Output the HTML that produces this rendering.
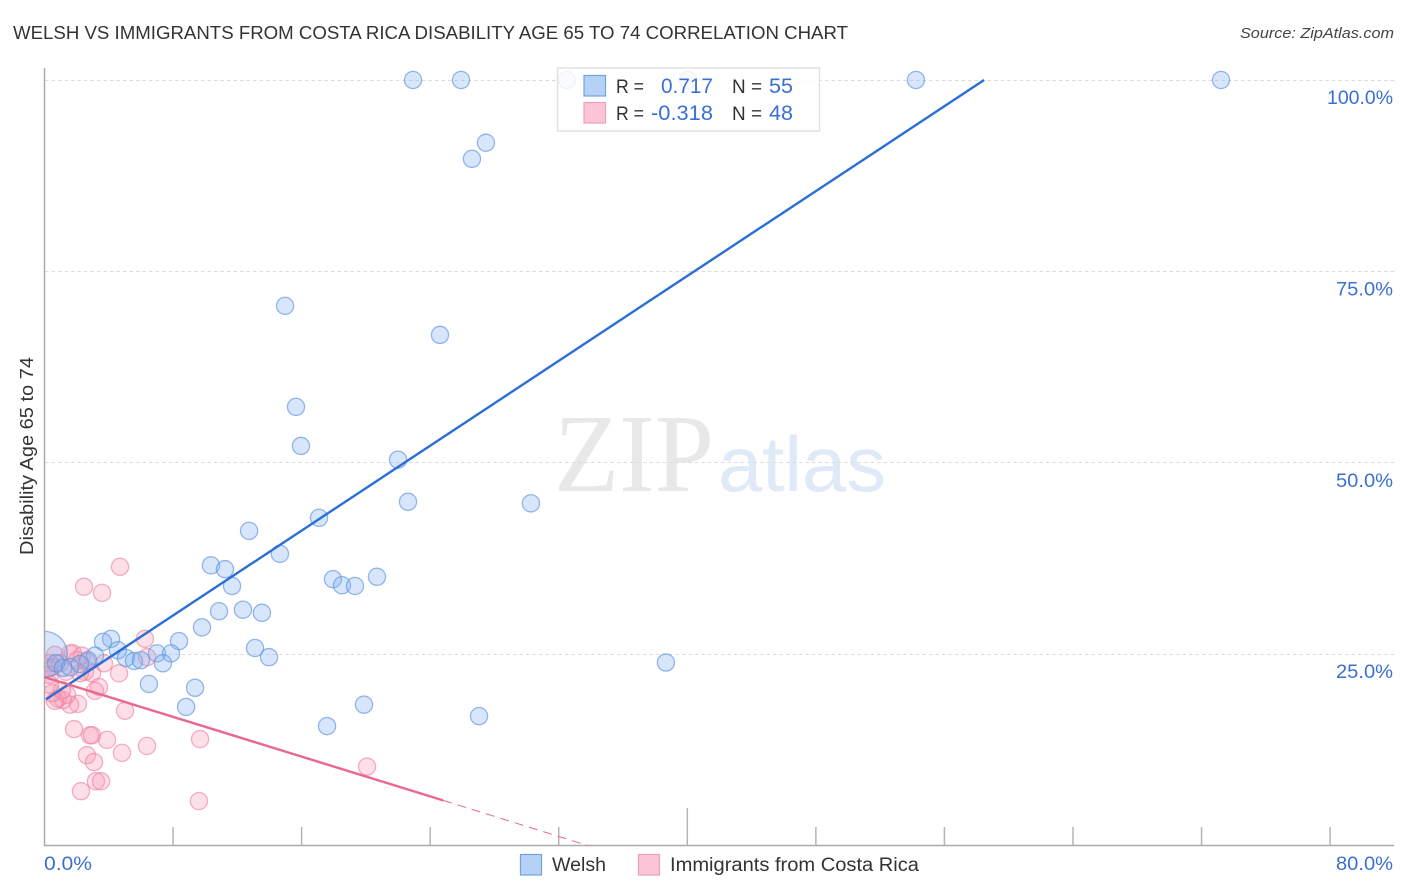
<!DOCTYPE html>
<html lang="en">
<head>
<meta charset="utf-8">
<title>Welsh vs Immigrants from Costa Rica Disability Age 65 to 74 Correlation Chart</title>
<style>
html,body{margin:0;padding:0;background:#fff;width:1406px;height:892px;overflow:hidden}
svg{display:block;font-family:"Liberation Sans",sans-serif}
</style>
</head>
<body>
<svg id="chart" width="1406" height="892" viewBox="0 0 1406 892" xmlns="http://www.w3.org/2000/svg">
  <text x="13" y="39" font-size="18.5" fill="#333" textLength="835" lengthAdjust="spacingAndGlyphs">WELSH VS IMMIGRANTS FROM COSTA RICA DISABILITY AGE 65 TO 74 CORRELATION CHART</text>
  <text x="1394" y="38" font-size="15" font-style="italic" fill="#444" text-anchor="end" textLength="154" lengthAdjust="spacingAndGlyphs">Source: ZipAtlas.com</text>
  <g>
    <text x="554" y="491" font-size="111" fill="#e8e8e8" style="font-family:'Liberation Serif',serif" textLength="160" lengthAdjust="spacingAndGlyphs">ZIP</text>
    <text x="718" y="491" font-size="78" fill="#dfe9f7" textLength="168" lengthAdjust="spacingAndGlyphs">atlas</text>
  </g>
  <g id="grid"></g>
  <g id="points"></g>
  <rect x="0" y="60" width="44.5" height="800" fill="#fff"/>
  <g id="axes"></g>
  <g id="trends"></g>
  <g id="ticklabels"></g>
  <text transform="translate(33,456) rotate(-90)" font-size="18" fill="#333" text-anchor="middle" textLength="198" lengthAdjust="spacingAndGlyphs">Disability Age 65 to 74</text>

  <g>
    <rect x="557.5" y="68" width="262" height="63" fill="#fff" fill-opacity="0.84" stroke="#e2e2e2" stroke-width="1.5"/>
    <rect x="584" y="75.5" width="21.5" height="20.5" fill="#b5d2f6" stroke="#6fa3e3" stroke-width="1.2"/>
    <rect x="584" y="102.5" width="21.5" height="20.5" fill="#fcc5d7" stroke="#f0a0b8" stroke-width="1.2"/>
    <text x="616" y="93" font-size="19.5" fill="#333" textLength="28" lengthAdjust="spacingAndGlyphs">R =</text>
    <text x="661" y="93" font-size="21" fill="#3a70d2" textLength="52" lengthAdjust="spacingAndGlyphs">0.717</text>
    <text x="732" y="93" font-size="19.5" fill="#333" textLength="30" lengthAdjust="spacingAndGlyphs">N =</text>
    <text x="769" y="93" font-size="21" fill="#3a70d2" textLength="24" lengthAdjust="spacingAndGlyphs">55</text>
    <text x="616" y="120" font-size="19.5" fill="#333" textLength="28" lengthAdjust="spacingAndGlyphs">R =</text>
    <text x="651" y="120" font-size="21" fill="#3a70d2" textLength="62" lengthAdjust="spacingAndGlyphs">-0.318</text>
    <text x="732" y="120" font-size="19.5" fill="#333" textLength="30" lengthAdjust="spacingAndGlyphs">N =</text>
    <text x="769" y="120" font-size="21" fill="#3a70d2" textLength="24" lengthAdjust="spacingAndGlyphs">48</text>
  </g>

  <g>
    <rect x="520.5" y="854.5" width="21" height="20.5" fill="#b5d2f6" stroke="#6fa3e3" stroke-width="1.2"/>
    <text x="552" y="871" font-size="19" fill="#333" textLength="54" lengthAdjust="spacingAndGlyphs">Welsh</text>
    <rect x="638.5" y="854.5" width="21" height="20.5" fill="#fcc5d7" stroke="#f0a0b8" stroke-width="1.2"/>
    <text x="670" y="871" font-size="19" fill="#333" textLength="249" lengthAdjust="spacingAndGlyphs">Immigrants from Costa Rica</text>
  </g>
</svg>
<script>
const welshX = [22.93,25.92,32.51,40.05,54.23,73.21,27.47,26.60,14.97,24.61,15.65,15.96,22.0,22.62,30.27,17.08,12.73,14.65,10.36,11.23,17.95,18.51,19.32,20.69,11.67,10.86,12.35,13.53,9.80,8.37,4.14,3.64,4.57,3.14,2.71,5.07,5.57,6.0,7.0,7.87,7.37,13.1,13.97,38.67,6.5,9.37,8.81,19.88,17.58,27.04,0,0.72,1.15,1.59,2.2];
const welshY = [100,100,100,100,100,100,91.8,89.7,70.5,66.7,57.3,52.2,50.4,44.9,44.7,42.8,41.1,38.1,36.6,36.1,34.8,34.0,33.9,35.1,33.9,30.6,30.8,30.4,28.5,26.7,27.0,26.6,25.5,24.8,24.2,24.5,24.1,24.2,25.1,25.1,23.8,25.8,24.6,23.9,21.1,20.6,18.1,18.4,15.6,16.9,25,23.8,23.2,23.3,23.7];
const welshWeight = [1,1,1,1,1,1,1,1,1,1,1,1,1,1,1,1,1,1,1,1,1,1,1,1,1,1,1,1,1,1,1,1,1,1,1,1,1,1,1,1,1,1,1,1,1,1,1,1,1,1,7,1,1,1,1];
const ricaX = [4.70,2.46,3.58,6.25,3.70,4.64,6.38,3.39,3.14,5.01,1.84,2.83,2.96,3.89,6.38,9.68,2.64,4.82,3.08,3.20,3.52,2.27,9.61,20.07,2.08,1.59,1.15,0.84,0.65,1.40,0.47,1.09,0.34,2.52,2.21,0.65,1.77,1.59,2.33,0.34,0.53,0.96,2.02,0.22,0.34,1.34,2.64,2.96];
const ricaY = [36.4,33.8,33.0,27.0,23.8,22.5,24.6,20.7,20.2,17.6,15.2,14.4,14.4,13.8,13.0,13.9,11.8,12.1,10.9,8.4,8.4,7.1,5.8,10.3,18.5,18.4,19.0,19.2,18.9,19.7,19.9,20.3,21.0,22.7,22.5,24.9,25.1,25.1,24.8,23.8,23.3,23.8,24.2,23.2,22.3,22.7,24.0,22.5];
const welshTrendX = [0.1,58.47];
const welshTrendY = [19.1,100];
const ricaTrendSolidX = [0,24.8];
const ricaTrendSolidY = [22.0,5.9];
const ricaTrendDashX = [24.8,33.8];
const ricaTrendDashY = [5.9,0];
const yTicks = [25,50,75,100];
const yTickLabels = ["25.0%","50.0%","75.0%","100.0%"];
const xTicks = [8,16,24,32,40,48,56,64,72,80];
const xEndLabels = ["0.0%","80.0%"];

const NS = "http://www.w3.org/2000/svg";
const sx = v => 44.5 + v * 16.07;
const sy = v => 845.5 - v * 7.655;
const labelWidth = s => 9 * s.length + 12;
function mk(parent, tag, attrs) {
  const el = document.createElementNS(NS, tag);
  for (const k in attrs) el.setAttribute(k, attrs[k]);
  parent.appendChild(el);
  return el;
}
const grid = document.getElementById("grid");
const axes = document.getElementById("axes");
const pts = document.getElementById("points");
const trends = document.getElementById("trends");
const labels = document.getElementById("ticklabels");

yTicks.forEach(function (t, i) {
  const yPix = Math.floor(sy(t)) + 0.5;
  const g = mk(grid, "line", {x1: 45, x2: 1394, y1: yPix, y2: yPix, stroke: "#dcdcdc", "stroke-width": 1, "stroke-dasharray": "3.5 3"});
  
  
  const w = labelWidth(yTickLabels[i]);
  const l = mk(labels, "text", {x: 1393 - w, y: sy(t) + 24, "font-size": 19.5, fill: "#3a70d2", textLength: w, lengthAdjust: "spacingAndGlyphs"});
  
  
  l.textContent = yTickLabels[i];
});

const yAxis = mk(axes, "line", {x1: 44.5, x2: 44.5, y1: 68, y2: 846, stroke: "#aaa", "stroke-width": 1.5});


const xAxis = mk(axes, "line", {x1: 44, x2: 1394, y1: 845.5, y2: 845.5, stroke: "#aaa", "stroke-width": 1.5});


xTicks.forEach(function (t) {
  const top = t === 40 ? 808 : 827;
  const tick = mk(axes, "line", {x1: sx(t), x2: sx(t), y1: top, y2: 845, stroke: "#b5b5b5", "stroke-width": 1.5});
  
  
});

const xLabelLeft = mk(labels, "text", {x: 44, y: 870, "font-size": 19.5, fill: "#3a70d2", textLength: labelWidth(xEndLabels[0]), lengthAdjust: "spacingAndGlyphs"});


xLabelLeft.textContent = xEndLabels[0];
const xLabelRight = mk(labels, "text", {x: 1393 - labelWidth(xEndLabels[1]), y: 870, "font-size": 19.5, fill: "#3a70d2", textLength: labelWidth(xEndLabels[1]), lengthAdjust: "spacingAndGlyphs"});


xLabelRight.textContent = xEndLabels[1];

ricaX.forEach(function (x, i) {
  const c = mk(pts, "circle", {cx: sx(x), cy: sy(ricaY[i]), r: 8.6, fill: "#f99bb8", "fill-opacity": 0.32, stroke: "#ea7f9f", "stroke-opacity": 0.6, "stroke-width": 1.3});
  
  
});
welshX.forEach(function (x, i) {
  const c = mk(pts, "circle", {cx: sx(x), cy: sy(welshY[i]), r: 8.6 * Math.sqrt(welshWeight[i]), fill: "#82b2ee", "fill-opacity": 0.32, stroke: "#5f94dc", "stroke-opacity": 0.65, "stroke-width": 1.3});
  
  
});

const tb = mk(trends, "line", {x1: sx(welshTrendX[0]), y1: sy(welshTrendY[0]), x2: sx(welshTrendX[1]), y2: sy(welshTrendY[1]), stroke: "#2a6fd6", "stroke-width": 2.4});


const tp = mk(trends, "line", {x1: sx(ricaTrendSolidX[0]), y1: sy(ricaTrendSolidY[0]), x2: sx(ricaTrendSolidX[1]), y2: sy(ricaTrendSolidY[1]), stroke: "#e9688f", "stroke-width": 2.4});


const td = mk(trends, "line", {x1: sx(ricaTrendDashX[0]), y1: sy(ricaTrendDashY[0]), x2: sx(ricaTrendDashX[1]), y2: sy(ricaTrendDashY[1]), stroke: "#e9688f", "stroke-width": 1, "stroke-dasharray": "9 6"});


</script>
</body>
</html>
